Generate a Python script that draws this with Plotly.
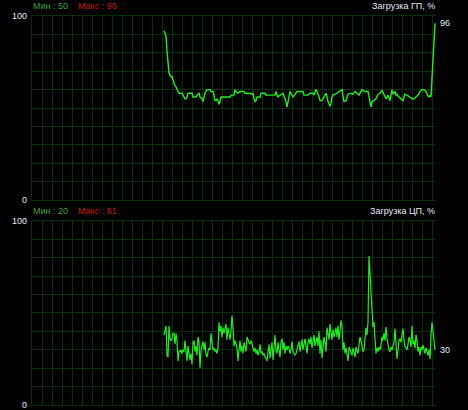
import plotly.graph_objects as go

# ---------------- data ----------------
# GPU load (%) : sample index -> value
gpu_t = [0, 1, 2, 3, 4, 5, 6, 7, 8, 9, 10, 11, 12, 13, 14, 15, 18, 19, 21, 22, 23, 24, 28, 29, 32, 33, 35, 36,
         38, 39, 40, 41, 43, 46, 47, 49, 50, 51, 52, 53, 54, 55, 56, 57, 66, 67, 70, 71, 72, 74, 76, 78,
         80, 81, 84, 86, 87, 89, 90, 91, 92, 93, 96, 97, 101, 102, 111, 112, 113, 114, 115, 117, 119,
         120, 121, 122, 123, 124, 125, 126, 127, 128, 129, 130, 131, 133, 139, 140, 144, 146, 149, 150,
         152, 153, 155, 156, 158, 160, 162, 163, 164, 166, 167, 168, 169, 171, 173, 175, 177, 178, 179,
         180, 182, 184, 187, 189, 191, 193, 195, 197, 198, 199, 201, 204, 206, 207, 208, 210, 212, 214,
         216, 218, 219, 220, 222, 223, 224, 226, 228, 229, 231, 232, 233, 234, 235, 237, 239, 240, 241,
         243, 245, 248, 250, 252, 254, 256, 258, 260, 262, 264, 265, 266, 267, 268, 269, 270, 271]
gpu_load = [92, 90, 89, 81, 75, 69, 68, 67, 67, 65, 63.5, 62, 61.5, 60.5, 59.6, 58, 58, 57, 55, 55, 56, 58,
            58, 56, 56, 57, 58, 56, 55, 53.5, 56, 58, 60, 60, 59, 59, 57, 54, 54, 55, 54, 52, 53.5, 56, 56,
            57, 57, 60, 59, 58, 59, 59, 59, 58, 58, 58, 57.5, 58, 55, 53.5, 54, 56, 56, 58, 58, 57, 57, 59,
            57, 56, 56.5, 57.5, 58, 56.5, 55, 53.5, 50.5, 54, 57.5, 59, 58, 57, 56, 56.5, 57.5, 59, 59, 57,
            57, 58, 58, 57, 60, 59, 56, 54, 54, 56, 58, 56, 53.5, 51, 52.5, 56, 57, 57.5, 58, 59, 59.5, 60,
            56.5, 53.5, 54, 57.5, 58, 57.5, 59, 58, 57, 59, 60, 59.5, 59, 59, 53.5, 50.5, 53.5, 54, 55,
            57.5, 58, 59.5, 58.5, 57, 55, 56, 57, 54, 60, 57.5, 59, 57, 57.5, 56.5, 56, 55, 54, 56, 57.5,
            57, 56, 55, 55, 56, 57, 59, 60, 60, 59, 56.5, 56, 57, 56, 66, 75, 85.5, 96]

# CPU load (%) : one value per sample, starting at sample 0
cpu_load = [38, 40, 43, 27, 26, 43, 36, 35, 36, 39, 39, 33, 39, 35, 24, 29, 29, 30, 28, 30, 29, 35, 27, 24,
            32, 29, 24.5, 28, 22, 34, 35, 29, 32, 27, 37, 34.5, 20, 30, 32, 34.5, 30, 34, 27, 26, 29, 31,
            30, 39, 34, 30, 31, 29, 30, 28, 31, 45, 40, 43, 37, 42, 39, 41, 44, 35.5, 42, 39, 35.5, 40,
            48.5, 42, 32, 35, 33, 31, 24, 32, 35, 29, 32, 28, 34, 32, 29, 37, 35, 34, 33, 35, 33,
            30, 29, 31, 28, 30, 27, 29, 33, 28, 29, 27, 28, 26, 25.5, 24, 29, 33, 25.5, 32, 34, 24.5, 31,
            38, 30, 28, 34, 31, 26, 34, 36, 30, 34, 28, 32, 30, 32, 31, 28, 30, 34.5, 29, 28, 27, 28, 30,
            32, 34.5, 29, 32, 35.5, 30, 33, 36, 32, 28, 34, 36, 33, 37, 31, 34, 38, 32, 34.5, 37, 32, 40,
            28, 35.5, 25.5, 34.5, 37, 34, 29, 42, 37, 35.5, 44, 38, 35.5, 41, 37, 39, 42, 37, 43, 35.5,
            40, 46,
            42.4, 30, 34, 28, 31, 27, 24, 31.5, 30, 29, 27, 31, 28, 26, 31.5, 30, 28, 32.5, 37, 35, 31, 29,
            30, 35, 42, 38, 45, 81, 69.5, 62, 51.5, 42.4, 45, 31.5, 28, 31, 29, 31.5, 30, 32.5, 37, 35, 39,
            35, 42.4, 36, 31.5, 30, 29, 31.5, 30, 33, 34, 41.5, 31.5, 25, 30, 35, 36, 34, 38, 41.5, 35,
            31.5, 31, 30, 33, 37, 35, 31.5, 43, 33, 35, 31, 38, 35, 29, 31.5, 27, 31.5, 30, 32.5, 30, 28,
            31, 29, 27, 30, 25, 38, 45, 40, 32.5, 30]
cpu_t = list(range(len(cpu_load)))

panel_titles = ["Загрузка ГП, %", "Загрузка ЦП, %"]
axis_labels = [100, 0]

# ---------------- style ----------------
BG = "#000000"
GRID = "#0a2e0a"
LINE = "#1cf01c"
TXT = "#e6ecf4"
GREEN_TXT = "#3ea33e"
RED_TXT = "#c41616"
FONT = "Liberation Sans"
FS = 9

fig = go.Figure()
fig.add_trace(go.Scatter(x=gpu_t, y=gpu_load, mode="lines", line=dict(color=LINE, width=1.4),
                         xaxis="x", yaxis="y", hoverinfo="skip"))
fig.add_trace(go.Scatter(x=cpu_t, y=cpu_load, mode="lines", line=dict(color=LINE, width=1.2),
                         xaxis="x2", yaxis="y2", hoverinfo="skip"))

xcommon = dict(range=[-132, 272], tick0=-132, dtick=10, showgrid=True, gridcolor=GRID, gridwidth=1,
               showticklabels=False, zeroline=False, showline=True, linecolor=GRID, linewidth=1,
               mirror=True, ticks="", fixedrange=True)
ycommon = dict(range=[0, 100], tick0=0, dtick=10, showgrid=True, gridcolor=GRID, gridwidth=1,
               showticklabels=False, zeroline=False, showline=True, linecolor=GRID, linewidth=1,
               ticks="", fixedrange=True)

fig.update_layout(
    width=468, height=410,
    margin=dict(l=32, r=32, t=16, b=5, pad=0),
    paper_bgcolor=BG, plot_bgcolor=BG,
    showlegend=False,
    font=dict(family=FONT, size=FS, color=TXT),
    xaxis=dict(domain=[0, 1], anchor="y", **xcommon),
    yaxis=dict(domain=[0.52699, 1], anchor="x", **ycommon),
    xaxis2=dict(domain=[0, 1], anchor="y2", **xcommon),
    yaxis2=dict(domain=[0, 0.47301], anchor="x2", **ycommon),
)

series = [(gpu_load, "y"), (cpu_load, "y2")]
ann = []
for i, (vals, yr) in enumerate(series):
    mn, mx = int(min(vals)), int(max(vals))
    for v in axis_labels:
        ann.append(dict(text=str(v), xref="paper", x=0, xanchor="right", xshift=-3,
                        yref=yr, y=v, yanchor="middle", showarrow=False,
                        font=dict(color=TXT, size=FS, family=FONT)))
    ann.append(dict(text=f"{vals[-1]:.0f}", xref="paper", x=1, xanchor="left", xshift=2,
                    yref=yr, y=vals[-1], yanchor="middle", showarrow=False,
                    font=dict(color=TXT, size=FS, family=FONT)))
    ann.append(dict(text=f"Мин : {mn}", xref="paper", x=0, xanchor="left", xshift=-1,
                    yref=yr, y=100, yanchor="middle", yshift=10, showarrow=False,
                    font=dict(color=GREEN_TXT, size=FS, family=FONT)))
    ann.append(dict(text=f"Макс : {mx}", xref="paper", x=0, xanchor="left", xshift=44,
                    yref=yr, y=100, yanchor="middle", yshift=10, showarrow=False,
                    font=dict(color=RED_TXT, size=FS, family=FONT)))
    ann.append(dict(text=panel_titles[i], xref="paper", x=1, xanchor="right", xshift=1,
                    yref=yr, y=100, yanchor="middle", yshift=10, showarrow=False,
                    font=dict(color=TXT, size=FS, family=FONT)))
fig.update_layout(annotations=ann)

page_fix = ("document.body.style.margin='0';document.body.style.padding='0';"
            "document.body.style.background='#000';document.body.style.overflow='hidden';")
fig.write_html("out.html", config={"displayModeBar": False}, post_script=page_fix)
